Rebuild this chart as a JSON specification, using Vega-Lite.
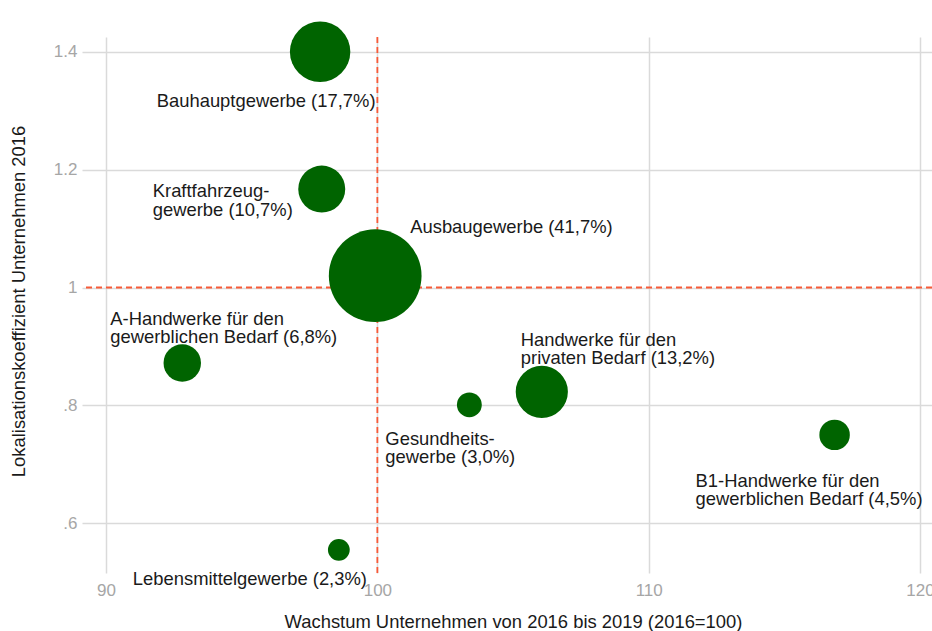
{
  "$schema": "https://vega.github.io/schema/vega-lite/v6.json",
  "width": 850,
  "height": 536,
  "autosize": {"type": "none"},
  "padding": {"left": 82, "top": 37, "right": 0, "bottom": 58},
  "background": "white",
  "config": {
    "view": {"stroke": null},
    "font": "Liberation Sans",
    "axis": {
      "labelFont": "Liberation Sans",
      "titleFont": "Liberation Sans",
      "labelFontSize": 17,
      "titleFontSize": 18.4,
      "titleFontWeight": "normal",
      "labelColor": "#a6a6a6",
      "titleColor": "#1a1a1a",
      "gridColor": "#dadada",
      "gridWidth": 1.5,
      "domain": false,
      "ticks": false
    }
  },
  "datasets": {
    "pts": [
      {"name": "Bauhauptgewerbe", "label": "Bauhauptgewerbe (17,7%)", "x": 97.89, "y": 1.400, "share": 17.7},
      {"name": "Kraftfahrzeuggewerbe", "label": "Kraftfahrzeug-\ngewerbe (10,7%)", "x": 97.95, "y": 1.167, "share": 10.7},
      {"name": "Ausbaugewerbe", "label": "Ausbaugewerbe (41,7%)", "x": 99.92, "y": 1.020, "share": 41.7},
      {"name": "A-Handwerke", "label": "A-Handwerke für den\ngewerblichen Bedarf (6,8%)", "x": 92.81, "y": 0.872, "share": 6.8},
      {"name": "Gesundheitsgewerbe", "label": "Gesundheits-\ngewerbe (3,0%)", "x": 103.39, "y": 0.801, "share": 3.0},
      {"name": "Privat", "label": "Handwerke für den\nprivaten Bedarf (13,2%)", "x": 106.06, "y": 0.823, "share": 13.2},
      {"name": "B1-Handwerke", "label": "B1-Handwerke für den\ngewerblichen Bedarf (4,5%)", "x": 116.85, "y": 0.750, "share": 4.5},
      {"name": "Lebensmittelgewerbe", "label": "Lebensmittelgewerbe (2,3%)", "x": 98.58, "y": 0.555, "share": 2.3}
    ]
  },
  "data": {"name": "pts"},
  "encoding": {
    "x": {
      "field": "x", "type": "quantitative",
      "scale": {"domain": [89.115, 120.44], "nice": false, "zero": false},
      "axis": {
        "values": [90, 100, 110, 120],
        "title": "Wachstum Unternehmen von 2016 bis 2019 (2016=100)",
        "labelPadding": 9,
        "titleX": 431, "titleY": 48, "titleBaseline": "middle", "titleAlign": "center"
      }
    },
    "y": {
      "field": "y", "type": "quantitative",
      "scale": {"domain": [0.5157, 1.425], "nice": false, "zero": false},
      "axis": {
        "values": [0.6, 0.8, 1, 1.2, 1.4],
        "labelExpr": "datum.value < 1 ? '.' + format(datum.value * 10, '.0f') : (datum.value == 1 ? '1' : format(datum.value, '.1f'))",
        "title": "Lokalisationskoeffizient Unternehmen 2016",
        "labelPadding": 5,
        "titleX": -64, "titleY": 264, "titleBaseline": "middle", "titleAlign": "center", "titleAngle": -90
      }
    }
  },
  "layer": [
    {
      "data": {"values": [{"ref": 100}]},
      "mark": {"type": "rule", "color": "#f85a38", "strokeWidth": 1.8, "strokeDash": [6, 4]},
      "encoding": {"x": {"field": "ref", "type": "quantitative"}, "y": null}
    },
    {
      "data": {"values": [{"ref": 1}]},
      "mark": {"type": "rule", "color": "#f85a38", "strokeWidth": 1.8, "strokeDash": [6, 4]},
      "encoding": {"y": {"field": "ref", "type": "quantitative"}, "x": null}
    },
    {
      "mark": {"type": "circle", "color": "#006400", "opacity": 1},
      "encoding": {
        "size": {"field": "share", "type": "quantitative", "scale": {"domain": [0, 41.7], "range": [0, 8600]}, "legend": null}
      }
    },
    {
      "transform": [{"filter": "datum.name == 'Bauhauptgewerbe'"}],
      "mark": {"type": "text", "align": "center", "baseline": "middle", "dx": -54, "dy": 49, "fontSize": 18.4, "color": "#1a1a1a", "lineBreak": "\n", "lineHeight": 18.5},
      "encoding": {"text": {"field": "label"}}
    },
    {
      "transform": [{"filter": "datum.name == 'Kraftfahrzeuggewerbe'"}],
      "mark": {"type": "text", "align": "left", "baseline": "middle", "dx": -169, "dy": 2, "fontSize": 18.4, "color": "#1a1a1a", "lineBreak": "\n", "lineHeight": 18.5},
      "encoding": {"text": {"field": "label"}}
    },
    {
      "transform": [{"filter": "datum.name == 'Ausbaugewerbe'"}],
      "mark": {"type": "text", "align": "left", "baseline": "middle", "dx": 35, "dy": -49, "fontSize": 18.4, "color": "#1a1a1a", "lineBreak": "\n", "lineHeight": 18.5},
      "encoding": {"text": {"field": "label"}}
    },
    {
      "transform": [{"filter": "datum.name == 'A-Handwerke'"}],
      "mark": {"type": "text", "align": "left", "baseline": "middle", "dx": -72, "dy": -44, "fontSize": 18.4, "color": "#1a1a1a", "lineBreak": "\n", "lineHeight": 18.5},
      "encoding": {"text": {"field": "label"}}
    },
    {
      "transform": [{"filter": "datum.name == 'Gesundheitsgewerbe'"}],
      "mark": {"type": "text", "align": "left", "baseline": "middle", "dx": -84, "dy": 34, "fontSize": 18.4, "color": "#1a1a1a", "lineBreak": "\n", "lineHeight": 18.5},
      "encoding": {"text": {"field": "label"}}
    },
    {
      "transform": [{"filter": "datum.name == 'Privat'"}],
      "mark": {"type": "text", "align": "left", "baseline": "middle", "dx": -21, "dy": -52, "fontSize": 18.4, "color": "#1a1a1a", "lineBreak": "\n", "lineHeight": 18.5},
      "encoding": {"text": {"field": "label"}}
    },
    {
      "transform": [{"filter": "datum.name == 'B1-Handwerke'"}],
      "mark": {"type": "text", "align": "left", "baseline": "middle", "dx": -139, "dy": 46, "fontSize": 18.4, "color": "#1a1a1a", "lineBreak": "\n", "lineHeight": 18.5},
      "encoding": {"text": {"field": "label"}}
    },
    {
      "transform": [{"filter": "datum.name == 'Lebensmittelgewerbe'"}],
      "mark": {"type": "text", "align": "left", "baseline": "middle", "dx": -206, "dy": 29, "fontSize": 18.4, "color": "#1a1a1a", "lineBreak": "\n", "lineHeight": 18.5},
      "encoding": {"text": {"field": "label"}}
    }
  ]
}
